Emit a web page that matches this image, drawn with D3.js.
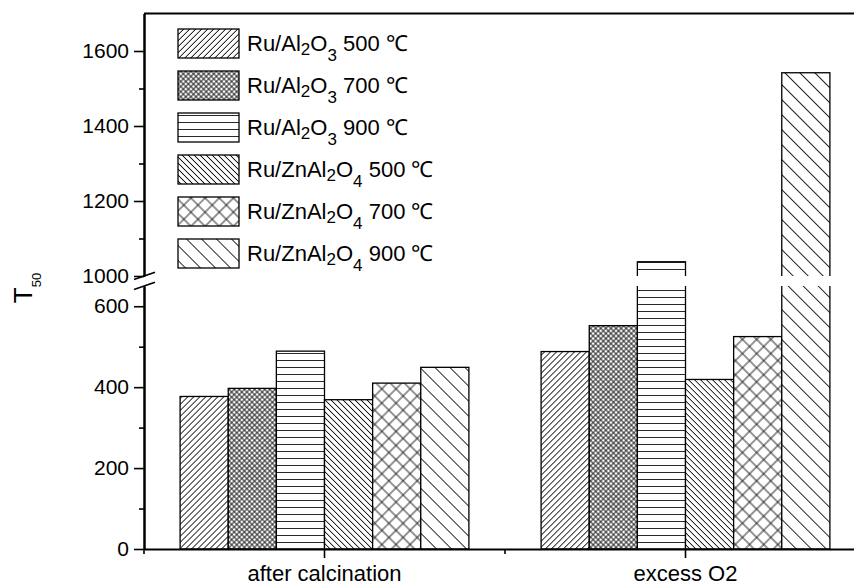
<!DOCTYPE html>
<html>
<head>
<meta charset="utf-8">
<script src="https://cdn.jsdelivr.net/npm/d3@7"></script>
<style>
  body { margin: 0; background: #fff; }
  text { font-family: "Liberation Sans", Arial, sans-serif; fill: #000; }
</style>
</head>
<body>
<div class="canvas"></div>
<script>
// data
const categories = ['after calcination', 'excess O2'];
const seriesLabels = [
    'Ru/Al_2O_3 500 ℃',
    'Ru/Al_2O_3 700 ℃',
    'Ru/Al_2O_3 900 ℃',
    'Ru/ZnAl_2O_4 500 ℃',
    'Ru/ZnAl_2O_4 700 ℃',
    'Ru/ZnAl_2O_4 900 ℃'
];
const afterCalcination = [377, 397, 489, 369, 410, 449];
const excessO2 = [488, 552, 1038, 419, 525, 1542];
const lowerTicks = [0, 200, 400, 600];
const lowerMinor = [100, 300, 500];
const upperTicks = [1000, 1200, 1400, 1600];
const upperMinor = [1100, 1300, 1500];

const seriesValues = [afterCalcination, excessO2];

const dims = { width: 854, height: 585 };
const plot = { left: 144, right: 866, top: 13.5, bottom: 549 };

const svg = d3.select('.canvas')
    .append('svg')
    .attr('width', dims.width)
    .attr('height', dims.height);

// broken y axis: two linear pieces
const yLo = d3.scaleLinear().domain([0, 650]).range([plot.bottom, 286]);
const yUp = d3.scaleLinear().domain([1000, 1700]).range([276, plot.top]);

const x0 = d3.scaleBand().domain(categories).range([plot.left, plot.right]);
const x1 = d3.scaleBand().domain(d3.range(seriesLabels.length))
    .range([x0.bandwidth() * 0.1, x0.bandwidth() * 0.9]);

// hatch patterns
const hatch = [
    { size: 4.24, angle: 45, lines: 'v' },
    { size: 3.6, angle: 45, lines: 'vh' },
    { size: 7, angle: 0, lines: 'h' },
    { size: 4.24, angle: -45, lines: 'v' },
    { size: 10, angle: 45, lines: 'vh' },
    { size: 10.6, angle: -45, lines: 'v' }
];
const defs = svg.append('defs');
hatch.forEach((h, i) => {
    const p = defs.append('pattern')
        .attr('id', 'p' + i)
        .attr('patternUnits', 'userSpaceOnUse')
        .attr('width', h.size)
        .attr('height', h.size)
        .attr('patternTransform', `rotate(${h.angle})`);
    p.append('rect').attr('width', h.size).attr('height', h.size).attr('fill', '#fff');
    if (h.lines.includes('v')) {
        p.append('line').attr('x1', h.size / 2).attr('x2', h.size / 2)
            .attr('y1', 0).attr('y2', h.size)
            .attr('stroke', '#111').attr('stroke-width', 0.9);
    }
    if (h.lines.includes('h')) {
        p.append('line').attr('y1', h.size / 2).attr('y2', h.size / 2)
            .attr('x1', 0).attr('x2', h.size)
            .attr('stroke', '#111').attr('stroke-width', 0.9);
    }
});

defs.append('clipPath').attr('id', 'clipLo')
    .append('rect').attr('x', 0).attr('y', yLo(650)).attr('width', dims.width).attr('height', plot.bottom - yLo(650) + 2);
defs.append('clipPath').attr('id', 'clipUp')
    .append('rect').attr('x', 0).attr('y', 0).attr('width', dims.width).attr('height', yUp(1000));

const rows = [];
categories.forEach((c, i) => {
    seriesValues[i].forEach((v, j) => rows.push({ cat: c, j, v }));
});

const barX = d => x0(d.cat) + x1(d.j);

// lower piece of each bar
svg.append('g').attr('clip-path', 'url(#clipLo)')
    .selectAll('rect')
    .data(rows)
    .enter()
    .append('rect')
    .attr('x', barX)
    .attr('width', x1.bandwidth())
    .attr('y', d => d.v > 650 ? yLo(650) - 5 : yLo(d.v))
    .attr('height', d => yLo(0) - (d.v > 650 ? yLo(650) - 5 : yLo(d.v)))
    .attr('fill', d => `url(#p${d.j})`)
    .attr('stroke', '#000')
    .attr('stroke-width', 1.3);

// upper piece for bars crossing the break
svg.append('g').attr('clip-path', 'url(#clipUp)')
    .selectAll('rect')
    .data(rows.filter(d => d.v > 1000))
    .enter()
    .append('rect')
    .attr('x', barX)
    .attr('width', x1.bandwidth())
    .attr('y', d => yUp(d.v))
    .attr('height', d => yUp(1000) + 5 - yUp(d.v))
    .attr('fill', d => `url(#p${d.j})`)
    .attr('stroke', '#000')
    .attr('stroke-width', 1.3);

// y axes
const styleAxis = g => {
    g.selectAll('path.domain').attr('stroke', '#000').attr('stroke-width', 2);
    g.selectAll('.tick line').attr('stroke', '#000').attr('stroke-width', 1.6);
    g.selectAll('.tick text').style('font-size', '21px').style('font-family', '"Liberation Sans", Arial, sans-serif');
};

svg.append('g')
    .attr('transform', `translate(${plot.left},0)`)
    .call(d3.axisLeft(yLo).tickValues(lowerTicks).tickSize(10).tickSizeOuter(0).tickPadding(5).tickFormat(d3.format('d')))
    .call(styleAxis);
svg.append('g')
    .attr('transform', `translate(${plot.left},0)`)
    .call(d3.axisLeft(yLo).tickValues(lowerMinor).tickSize(5).tickSizeOuter(0).tickFormat(''))
    .call(styleAxis);
svg.append('g')
    .attr('transform', `translate(${plot.left},0)`)
    .call(d3.axisLeft(yUp).tickValues(upperTicks).tickSize(10).tickSizeOuter(0).tickPadding(5).tickFormat(d3.format('d')))
    .call(styleAxis);
svg.append('g')
    .attr('transform', `translate(${plot.left},0)`)
    .call(d3.axisLeft(yUp).tickValues(upperMinor).tickSize(5).tickSizeOuter(0).tickFormat(''))
    .call(styleAxis);

// break marks
[yUp(1000), yLo(650)].forEach(yy => {
    svg.append('line')
        .attr('x1', plot.left - 10).attr('y1', yy + 3.5)
        .attr('x2', plot.left + 11).attr('y2', yy - 3.8)
        .attr('stroke', '#000').attr('stroke-width', 1.6);
});

// top frame
svg.append('line')
    .attr('x1', plot.left).attr('x2', dims.width)
    .attr('y1', plot.top).attr('y2', plot.top)
    .attr('stroke', '#000').attr('stroke-width', 2);

// x axis
const xAxis = svg.append('g')
    .attr('transform', `translate(0,${plot.bottom})`)
    .call(d3.axisBottom(x0).tickSize(9).tickSizeOuter(0).tickPadding(7.5));
xAxis.select('path.domain').attr('stroke', '#000').attr('stroke-width', 2.2);
xAxis.selectAll('.tick line').attr('stroke', '#000').attr('stroke-width', 1.6);
xAxis.selectAll('.tick text').style('font-size', '22px');

// minor x ticks at band edges
svg.append('g')
    .selectAll('line')
    .data(d3.range(categories.length + 1))
    .enter()
    .append('line')
    .attr('x1', i => plot.left + i * x0.step())
    .attr('x2', i => plot.left + i * x0.step())
    .attr('y1', plot.bottom)
    .attr('y2', plot.bottom + 5)
    .attr('stroke', '#000')
    .attr('stroke-width', 1.6);

// y label
const yLabel = svg.append('text')
    .attr('transform', 'translate(32,288) rotate(-90)')
    .attr('text-anchor', 'middle')
    .style('font-size', '26px');
yLabel.append('tspan').text('T');
yLabel.append('tspan').attr('dy', 9).style('font-size', '13px').text('50');

// legend
const legend = svg.append('g');
seriesLabels.forEach((s, j) => {
    const top = 29 + j * 42;
    legend.append('rect')
        .attr('x', 178).attr('y', top)
        .attr('width', 61).attr('height', 29)
        .attr('fill', `url(#p${j})`)
        .attr('stroke', '#000').attr('stroke-width', 1.3);
    const base = top + 22;
    const t = legend.append('text').attr('x', 247).attr('y', base).style('font-size', '22px');
    const parts = s.split(/_(\d)/);
    let sub = 0;
    parts.forEach((p, k) => {
        if (k % 2 === 1) {
            sub++;
            t.append('tspan').attr('y', base + (sub === 1 ? 4 : 10)).style('font-size', '17px').text(p);
        } else {
            t.append('tspan').attr('y', base).text(p);
        }
    });
});
</script>
</body>
</html>
